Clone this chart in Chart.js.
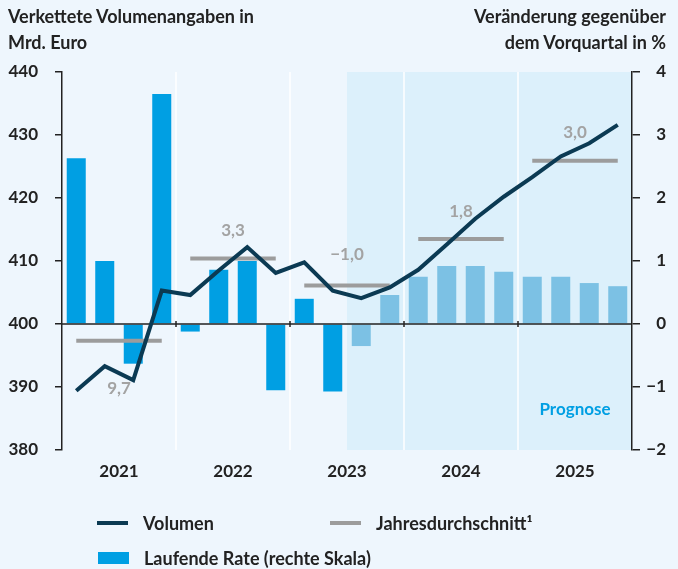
<!DOCTYPE html>
<html>
<head>
<meta charset="utf-8">
<script src="https://cdn.jsdelivr.net/npm/chart.js@4/dist/chart.umd.min.js"></script>
<style>
  html, body { margin: 0; padding: 0; background: #eef6fd; }
  #wrap { position: relative; width: 678px; height: 569px; font-family: Lato, sans-serif; font-weight: 700; color: #222; }
  #chart { position: absolute; left: 0; top: 0; }
  .title { position: absolute; top: 3px; font-size: 18px; line-height: 26px; }
  .leg { position: absolute; display: flex; align-items: center; font-size: 18px; line-height: 20px; }
  .leg i { display: inline-block; width: 31px; margin-right: 15px; }
</style>
</head>
<body>
<div id="wrap">
  <canvas id="chart" width="678" height="569"></canvas>
  <div class="title" style="left:8px">Verkettete Volumenangaben in<br>Mrd. Euro</div>
  <div class="title" style="right:12px;text-align:right">Veränderung gegenüber<br>dem Vorquartal in %</div>
  <div class="leg" style="left:97px;top:513px"><i style="height:4px;background:#0b3a53"></i>Volumen</div>
  <div class="leg" style="left:330px;top:513px"><i style="height:4px;background:#9c9c9c"></i>Jahresdurchschnitt¹</div>
  <div class="leg" style="left:98px;top:548px"><i style="height:12px;background:#009fe3"></i>Laufende Rate (rechte Skala)</div>
</div>
<script>
/* quarters 2021 Q1 .. 2025 Q4 */
const quarters = [
  '2021 Q1', '2021 Q2', '2021 Q3', '2021 Q4',
  '2022 Q1', '2022 Q2', '2022 Q3', '2022 Q4',
  '2023 Q1', '2023 Q2', '2023 Q3', '2023 Q4',
  '2024 Q1', '2024 Q2', '2024 Q3', '2024 Q4',
  '2025 Q1', '2025 Q2', '2025 Q3', '2025 Q4',
];
const years = ['2021', '2022', '2023', '2024', '2025'];

// Volumen, Mrd. Euro (left scale)
const volumen = [389.4, 393.3, 391.1, 405.3, 404.6, 408.5, 412.2, 408.1, 409.8, 405.3,
                 404.1, 405.8, 408.6, 412.6, 416.7, 420.2, 423.3, 426.6, 428.7, 431.6];
// Laufende Rate, % ggü. Vorquartal (right scale)
const rate = [2.63, 1.0, -0.63, 3.65, -0.12, 0.86, 1.0, -1.05, 0.4, -1.07,
              -0.35, 0.46, 0.75, 0.92, 0.92, 0.83, 0.75, 0.75, 0.65, 0.6];
// Jahresdurchschnitt (left scale) and its printed rate
const yearAvg = [397.35, 410.4, 406.1, 413.5, 425.9];
const yearAvgLabels = ['9,7', '3,3', '−1,0', '1,8', '3,0'];
const firstForecast = 10; // 2023 Q3

const DARK = '#222';
const NAVY = '#0b3a53';
const GREY = '#9c9c9c';
const BLUE = '#009fe3';
const BLUE_FC = '#7cc1e4';
const FONT = {family: 'Lato, sans-serif', size: 17, weight: '700'};
const LABEL_DY = [48, -28, -31, -27, -28];

const avgSeries = quarters.map((q, i) => yearAvg[Math.floor(i / 4)]);

function midX(xs, i) {
  return (xs.getPixelForValue(i) + xs.getPixelForValue(i + 1)) / 2;
}

const decor = {
  id: 'decor',
  beforeDraw(chart) {
    const {ctx, chartArea: a, scales: {x}} = chart;
    ctx.save();
    ctx.fillStyle = '#dcf0fb';
    const fx = midX(x, firstForecast - 1);
    ctx.fillRect(fx, a.top, a.right - fx, a.bottom - a.top);
    ctx.strokeStyle = '#ffffff';
    ctx.lineWidth = 1.5;
    for (let y = 1; y < years.length; y++) {
      const px = midX(x, y * 4 - 1);
      ctx.beginPath();
      ctx.moveTo(px, a.top);
      ctx.lineTo(px, a.bottom);
      ctx.stroke();
    }
    ctx.restore();
  },
  afterDatasetDraw(chart, args) {
    if (args.index !== 2) return;
    const {ctx, chartArea: a, scales: {x, y2}} = chart;
    const zy = y2.getPixelForValue(0);
    ctx.save();
    ctx.strokeStyle = DARK;
    ctx.lineWidth = 1.5;
    ctx.beginPath();
    ctx.moveTo(a.left, zy);
    ctx.lineTo(a.right, zy);
    for (let y = 1; y < years.length; y++) {
      const px = midX(x, y * 4 - 1);
      ctx.moveTo(px, zy - 3);
      ctx.lineTo(px, zy + 3);
    }
    ctx.stroke();
    ctx.restore();
  },
  afterDraw(chart) {
    const {ctx, chartArea: a, scales: {x, y}} = chart;
    ctx.save();
    ctx.textAlign = 'center';
    ctx.textBaseline = 'middle';
    ctx.font = '700 17px Lato, sans-serif';
    ctx.fillStyle = DARK;
    years.forEach((yr, k) => ctx.fillText(yr, midX(x, k * 4 + 1), a.bottom + 22));
    ctx.fillStyle = '#a3a3a3';
    yearAvgLabels.forEach((t, k) => {
      ctx.fillText(t, midX(x, k * 4 + 1), y.getPixelForValue(yearAvg[k]) + LABEL_DY[k]);
    });
    ctx.fillStyle = BLUE;
    ctx.fillText('Prognose', 575, 410);
    ctx.restore();
  },
};

new Chart(document.getElementById('chart'), {
  type: 'bar',
  data: {
    labels: quarters,
    datasets: [
      {
        type: 'line', label: 'Volumen', data: volumen, yAxisID: 'y', order: 0,
        borderColor: NAVY, borderWidth: 4, pointRadius: 0, tension: 0,
        borderJoinStyle: 'miter',
      },
      {
        type: 'line', label: 'Jahresdurchschnitt', data: avgSeries, yAxisID: 'y', order: 1,
        borderColor: GREY, borderWidth: 4, pointRadius: 0, borderCapStyle: 'butt',
        segment: {borderColor: (c) => (c.p0DataIndex % 4 === 3 ? 'transparent' : GREY)},
      },
      {
        type: 'bar', label: 'Laufende Rate', data: rate, yAxisID: 'y2', order: 2,
        backgroundColor: rate.map((v, i) => (i >= firstForecast ? BLUE_FC : BLUE)),
        categoryPercentage: 1, barPercentage: 0.667,
      },
    ],
  },
  options: {
    responsive: false,
    animation: false,
    devicePixelRatio: 1,
    layout: {padding: {top: 72, bottom: 119, left: 0, right: 12}},
    plugins: {legend: {display: false}, tooltip: {enabled: false}},
    scales: {
      x: {
        grid: {display: false}, border: {display: false}, ticks: {display: false},
        afterFit: (s) => { s.height = 0; },
      },
      y: {
        position: 'left', min: 380, max: 440,
        ticks: {stepSize: 10, color: DARK, font: FONT, padding: 17},
        grid: {drawOnChartArea: false, color: DARK, lineWidth: 1.5, tickLength: 7},
        border: {color: DARK, width: 1.5},
        afterFit: (s) => { s.width = 62; },
      },
      y2: {
        position: 'right', min: -2, max: 4,
        ticks: {
          stepSize: 1, color: DARK, font: FONT, padding: 9, crossAlign: 'far',
          callback: (v) => (v < 0 ? '−' + Math.abs(v) : String(v)),
        },
        grid: {drawOnChartArea: false, color: DARK, lineWidth: 1.5, tickLength: 8},
        border: {color: DARK, width: 1.5},
        afterFit: (s) => { s.width = 34; },
      },
    },
  },
  plugins: [decor],
});
</script>
</body>
</html>
